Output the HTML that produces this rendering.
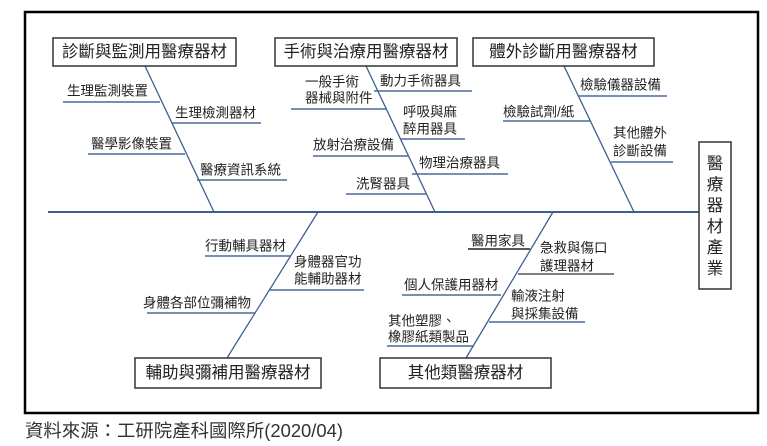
<!DOCTYPE html>
<html><head><meta charset="utf-8"><style>
html,body{margin:0;padding:0;background:#fff;}
svg{display:block;}
text{font-family:"Liberation Sans","Noto Sans CJK TC",sans-serif;fill:#222;dominant-baseline:central;}
.s{font-size:13.5px;}
.b{font-size:16.5px;}
.sl{stroke:#4a6a9a;stroke-width:1.5;}
.bn{stroke:#3d5f90;stroke-width:1.3;}
.bx{fill:#fff;stroke:#333;stroke-width:1.5;}
</style></head><body>
<svg width="767" height="446" viewBox="0 0 767 446" xmlns="http://www.w3.org/2000/svg">
<rect x="25" y="12" width="733" height="401" fill="#fff" stroke="#000" stroke-width="2.5"/>
<line x1="48" y1="212" x2="700" y2="212" stroke="#3d5f90" stroke-width="2"/>
<line class="bn" x1="145" y1="66" x2="214" y2="212"/>
<line class="bn" x1="366" y1="66" x2="435" y2="212"/>
<line class="bn" x1="564" y1="66" x2="634" y2="212"/>
<line class="bn" x1="318" y1="212" x2="227" y2="358"/>
<line class="bn" x1="553" y1="212" x2="466" y2="358"/>
<rect class="bx" x="53" y="38" width="183" height="28"/>
<text class="b" x="144.5" y="52" text-anchor="middle">診斷與監測用醫療器材</text>
<rect class="bx" x="275" y="38" width="182" height="28"/>
<text class="b" x="366" y="52" text-anchor="middle">手術與治療用醫療器材</text>
<rect class="bx" x="473" y="38" width="181" height="28"/>
<text class="b" x="563.5" y="52" text-anchor="middle">體外診斷用醫療器材</text>
<rect class="bx" x="135" y="358" width="186" height="30"/>
<text class="b" x="228" y="373" text-anchor="middle">輔助與彌補用醫療器材</text>
<rect class="bx" x="380" y="358" width="171" height="30"/>
<text class="b" x="465.5" y="373" text-anchor="middle">其他類醫療器材</text>
<rect class="bx" x="699" y="142" width="32" height="147"/>
<text class="b" x="715" y="164" text-anchor="middle">醫</text>
<text class="b" x="715" y="185" text-anchor="middle">療</text>
<text class="b" x="715" y="206" text-anchor="middle">器</text>
<text class="b" x="715" y="227" text-anchor="middle">材</text>
<text class="b" x="715" y="248" text-anchor="middle">產</text>
<text class="b" x="715" y="269" text-anchor="middle">業</text>
<text class="s" x="67" y="91">生理監測裝置</text><line class="sl" x1="63" y1="102" x2="160" y2="102"/>
<text class="s" x="175" y="113">生理檢測器材</text><line class="sl" x1="172" y1="123" x2="261" y2="123"/>
<text class="s" x="91" y="144">醫學影像裝置</text><line class="sl" x1="88" y1="154" x2="185" y2="154"/>
<text class="s" x="200" y="170">醫療資訊系統</text><line class="sl" x1="197" y1="180" x2="287" y2="180"/>
<text class="s" x="305" y="82">一般手術</text><text class="s" x="305" y="98">器械與附件</text><line class="sl" x1="291" y1="109" x2="387" y2="109"/>
<text class="s" x="380" y="81">動力手術器具</text><line class="sl" x1="374" y1="91" x2="472" y2="91"/>
<text class="s" x="403" y="112">呼吸與麻</text><text class="s" x="403" y="129">醉用器具</text><line class="sl" x1="400" y1="139" x2="465" y2="139"/>
<text class="s" x="313" y="145">放射治療設備</text><line class="sl" x1="313" y1="156" x2="408" y2="156"/>
<text class="s" x="419" y="163">物理治療器具</text><line class="sl" x1="412" y1="174" x2="508" y2="174"/>
<text class="s" x="356" y="184">洗腎器具</text><line class="sl" x1="346" y1="194" x2="427" y2="194"/>
<text class="s" x="580" y="85">檢驗儀器設備</text><line class="sl" x1="578" y1="96" x2="667" y2="96"/>
<text class="s" x="503" y="112">檢驗試劑/紙</text><line class="sl" x1="503" y1="121" x2="590" y2="121"/>
<text class="s" x="613" y="133">其他體外</text><text class="s" x="613" y="151">診斷設備</text><line class="sl" x1="611" y1="162" x2="673" y2="162"/>
<text class="s" x="205" y="246">行動輔具器材</text><line class="sl" x1="205" y1="256" x2="290" y2="256"/>
<text class="s" x="294" y="262">身體器官功</text><text class="s" x="294" y="279">能輔助器材</text><line class="sl" x1="270" y1="290" x2="364" y2="290"/>
<text class="s" x="143" y="303">身體各部位彌補物</text><line class="sl" x1="147" y1="313" x2="255" y2="313"/>
<text class="s" x="471" y="241">醫用家具</text><line class="sl" x1="468" y1="249" x2="530" y2="249" style="stroke:#222"/>
<text class="s" x="540" y="248">急救與傷口</text><text class="s" x="540" y="266">護理器材</text><line class="sl" x1="518" y1="274" x2="614" y2="274" style="stroke:#555"/>
<text class="s" x="404" y="285">個人保護用器材</text><line class="sl" x1="402" y1="295" x2="501" y2="295"/>
<text class="s" x="511" y="296">輸液注射</text><text class="s" x="511" y="314">與採集設備</text><line class="sl" x1="489" y1="322" x2="585" y2="322"/>
<text class="s" x="388" y="321">其他塑膠、</text><text class="s" x="388" y="337">橡膠紙類製品</text><line class="sl" x1="387" y1="346" x2="474" y2="346"/>
<text x="25" y="431" textLength="318" lengthAdjust="spacingAndGlyphs" style="font-size:18px;fill:#333">資料來源：工研院產科國際所(2020/04)</text>
</svg>
</body></html>
